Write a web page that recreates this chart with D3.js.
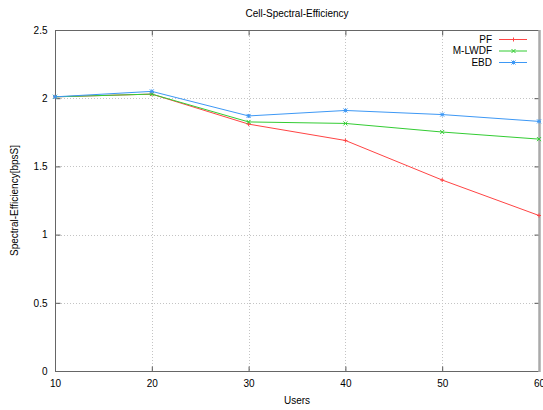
<!DOCTYPE html>
<html>
<head>
<meta charset="utf-8">
<script src="https://cdn.jsdelivr.net/npm/d3@7"></script>
<style>
  html, body { margin: 0; padding: 0; background: #fff; }
  text { font-family: "Liberation Sans", Arial, sans-serif; fill: #000; }
</style>
</head>
<body>
<svg id="chart" width="543" height="410"></svg>
<script>
// Users per cell
const users = [10, 20, 30, 40, 50, 60];
// Cell spectral efficiency per scheduler
const pf     = [2.01, 2.03, 1.81, 1.69, 1.40, 1.14];
const mlwdf  = [2.01, 2.03, 1.826, 1.815, 1.752, 1.70];
const ebd    = [2.01, 2.05, 1.87, 1.91, 1.88, 1.83];
const seriesNames = ["PF", "M-LWDF", "EBD"];
const xTicks = [10, 20, 30, 40, 50, 60];
const yTicks = [0, 0.5, 1, 1.5, 2, 2.5];

const series = [
  { name: seriesNames[0], values: pf,    color: "#ff4444", marker: "plus" },
  { name: seriesNames[1], values: mlwdf, color: "#33cc33", marker: "cross" },
  { name: seriesNames[2], values: ebd,   color: "#3d98f5", marker: "star" }
];

const svg = d3.select("#chart");
const plotL = 55, plotR = 539, plotT = 30, plotB = 371;

const x = d3.scaleLinear().domain([10, 60]).range([plotL, plotR]);
const y = d3.scaleLinear().domain([0, 2.5]).range([plotB, plotT]);

// grid
const grid = svg.append("g");
grid.selectAll(".gx").data(xTicks.slice(1, -1)).join("line")
  .attr("x1", d => Math.round(x(d)) + 0.5).attr("x2", d => Math.round(x(d)) + 0.5)
  .attr("y1", plotT).attr("y2", plotB)
  .attr("stroke", "#c4c4c4").attr("stroke-width", 1).attr("stroke-dasharray", "1,2");
grid.selectAll(".gy").data(yTicks.slice(1, -1)).join("line")
  .attr("y1", d => Math.round(y(d)) + 0.5).attr("y2", d => Math.round(y(d)) + 0.5)
  .attr("x1", plotL).attr("x2", plotR)
  .attr("stroke", "#c4c4c4").attr("stroke-width", 1).attr("stroke-dasharray", "1,2");

// axes with inward ticks on all four sides
const tickLen = 5;
const axB = svg.append("g").attr("transform", `translate(0,${plotB + 0.5})`)
  .call(d3.axisBottom(x).tickValues(xTicks).tickSize(-tickLen).tickPadding(8).tickFormat(d3.format("d")));
const axT = svg.append("g").attr("transform", `translate(0,${plotT + 0.5})`)
  .call(d3.axisTop(x).tickValues(xTicks).tickSize(-tickLen).tickFormat(""));
const axL = svg.append("g").attr("transform", `translate(${plotL + 0.5},0)`)
  .call(d3.axisLeft(y).tickValues(yTicks).tickSize(-tickLen).tickPadding(8).tickFormat(d => d3.format("")(d)));
const axR = svg.append("g").attr("transform", `translate(${plotR + 0.5},0)`)
  .call(d3.axisRight(y).tickValues(yTicks).tickSize(-tickLen).tickFormat(""));

[axB, axT, axL, axR].forEach(a => {
  a.select(".domain").remove();
  a.selectAll(".tick line").attr("stroke", "#555");
  a.selectAll(".tick text").attr("font-size", 10).attr("font-family", "Liberation Sans, Arial, sans-serif").attr("fill", "#000");
});

// border
svg.append("rect")
  .attr("x", plotL + 0.5).attr("y", plotT + 0.5)
  .attr("width", plotR - plotL).attr("height", plotB - plotT)
  .attr("fill", "none").attr("stroke", "#666").attr("stroke-width", 1);
svg.append("line")
  .attr("x1", plotR + 0.5).attr("x2", plotR + 0.5).attr("y1", plotT).attr("y2", plotB + 1)
  .attr("stroke", "#aaa").attr("stroke-width", 2.5);

// markers
function markerPath(type, s) {
  if (type === "plus") return `M${-s},0H${s}M0,${-s}V${s}`;
  if (type === "cross") return `M${-s},${-s}L${s},${s}M${-s},${s}L${s},${-s}`;
  return `M${-s},0H${s}M0,${-s}V${s}M${-s},${-s}L${s},${s}M${-s},${s}L${s},${-s}`;
}

const line = d3.line().x((d, i) => x(users[i])).y(d => y(d));
series.forEach(s => {
  const g = svg.append("g");
  g.append("path").datum(s.values).attr("d", line)
    .attr("fill", "none").attr("stroke", s.color).attr("stroke-width", 1);
  g.selectAll("path.m").data(s.values).join("path").attr("class", "m")
    .attr("transform", (d, i) => `translate(${x(users[i])},${y(d)})`)
    .attr("d", markerPath(s.marker, 2))
    .attr("stroke", s.color).attr("stroke-width", 1).attr("fill", "none");
});

// legend
const leg = svg.append("g");
series.forEach((s, i) => {
  const ly = 39 + i * 11.5;
  leg.append("text").attr("x", 492).attr("y", ly + 3.5).attr("text-anchor", "end")
    .attr("font-size", 10).text(s.name);
  leg.append("line").attr("x1", 499).attr("x2", 527).attr("y1", ly + 0.5).attr("y2", ly + 0.5)
    .attr("stroke", s.color).attr("stroke-width", 1);
  leg.append("path").attr("transform", `translate(513.5,${ly + 0.5})`)
    .attr("d", markerPath(s.marker, 2)).attr("stroke", s.color).attr("fill", "none");
});

// titles
svg.append("text").attr("x", 297).attr("y", 17).attr("text-anchor", "middle")
  .attr("font-size", 10).text("Cell-Spectral-Efficiency");
svg.append("text").attr("x", (plotL + plotR) / 2).attr("y", 404).attr("text-anchor", "middle")
  .attr("font-size", 10).text("Users");
svg.append("text").attr("transform", `translate(18,${(plotT + plotB) / 2}) rotate(-90)`)
  .attr("text-anchor", "middle").attr("font-size", 10).text("Spectral-Efficiency[bpsS]");
</script>
</body>
</html>
